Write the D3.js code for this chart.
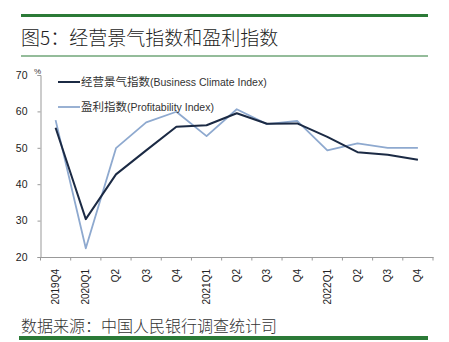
<!DOCTYPE html>
<html><head><meta charset="utf-8">
<script src="https://cdn.jsdelivr.net/npm/d3@7"></script>
<style>body{margin:0;background:#fff;}svg{display:block;}</style>
</head><body>
<svg id="c" width="449" height="342"></svg>
<script>
const categories = ["2019Q4","2020Q1","Q2","Q3","Q4","2021Q1","Q2 ","Q3 ","Q4 ","2022Q1","Q2  ","Q3  ","Q4  "];
const businessClimate = [55.5, 30.4, 42.7, 49.3, 55.8, 56.2, 59.5, 56.6, 56.7, 53.0, 48.8, 48.1, 46.7];
const profitability   = [57.6, 22.4, 49.9, 57.0, 59.9, 53.2, 60.6, 56.5, 57.4, 49.3, 51.2, 50.0, 50.0];
const yTicks = [20, 30, 40, 50, 60, 70];
const seriesNames = ["经营景气指数", "盈利指数"];
const seriesEn = ["(Business Climate Index)", "(Profitability Index)"];
const title = "图5：经营景气指数和盈利指数";
const source = "数据来源：中国人民银行调查统计司";

const svg = d3.select("#c");
const green = "#2b7a37";
const cjk = "'Noto Sans CJK SC','Noto Sans',sans-serif";
const lat = "'Liberation Sans',Arial,sans-serif";

// frame decorations
svg.append("rect").attr("x",21).attr("y",14).attr("width",407).attr("height",3).attr("fill",green);
svg.append("rect").attr("x",21).attr("y",55.5).attr("width",407).attr("height",1).attr("fill",green);
svg.append("rect").attr("x",19).attr("y",336).attr("width",409).attr("height",4).attr("fill",green);
svg.append("text").attr("x",21).attr("y",45).attr("font-family",cjk).attr("font-size",19).attr("font-weight",300).attr("fill","#222").text(title);
svg.append("text").attr("x",21).attr("y",332).attr("font-family",cjk).attr("font-size",16).attr("font-weight",300).attr("fill","#333").text(source);

const x = d3.scaleBand().domain(categories).range([40.5, 433]).padding(0);
const y = d3.scaleLinear().domain([20, 70]).range([257, 75]);
const axisColor = "#999";

// y axis
const ya = svg.append("g").attr("transform","translate(40.5,0)")
  .call(d3.axisLeft(y).tickValues(yTicks).tickSize(3).tickFormat(d3.format("d")));
ya.select(".domain").attr("stroke",axisColor);
ya.selectAll(".tick line").attr("stroke",axisColor);
ya.selectAll("text").attr("font-family",lat).attr("font-size",10.5).attr("fill","#222").attr("x",-13);
svg.append("text").attr("x",34).attr("y",74).attr("font-family",lat).attr("font-size",8).attr("fill","#333").text("%");

// x axis
const xa = svg.append("g").attr("transform","translate(0,257)")
  .call(d3.axisBottom(x).tickSize(0).tickSizeOuter(0));
xa.select(".domain").attr("stroke",axisColor);
xa.selectAll(".tick text")
  .attr("transform","rotate(-90)").attr("text-anchor","end")
  .attr("x",-12).attr("y",0).attr("dy","0.35em")
  .attr("font-family",lat).attr("font-size",10).attr("fill","#222")
  .text(d => d.trim());
const boundaries = categories.map(c => x(c)).concat([x.range()[1]]);
svg.append("g").selectAll("line").data(boundaries).join("line")
  .attr("x1",d=>d).attr("x2",d=>d).attr("y1",257).attr("y2",260.5)
  .attr("stroke",axisColor);

const cx = c => x(c) + x.bandwidth()/2;
const line = vals => d3.line().x((d,i)=>cx(categories[i])).y(d=>y(d))(vals);

svg.append("path").attr("d",line(profitability)).attr("fill","none").attr("stroke","#8ea9cf").attr("stroke-width",1.8).attr("stroke-linejoin","round");
svg.append("path").attr("d",line(businessClimate)).attr("fill","none").attr("stroke","#1b2a44").attr("stroke-width",2).attr("stroke-linejoin","round");

// legend
const legColors = ["#1b2a44","#8ea9cf"];
const legY = [82, 107];
seriesNames.forEach((n,i)=>{
  svg.append("line").attr("x1",58).attr("x2",80).attr("y1",legY[i]).attr("y2",legY[i])
    .attr("stroke",legColors[i]).attr("stroke-width",i===0?2:1.8);
  const t = svg.append("text").attr("x",81).attr("y",legY[i]+4).attr("fill","#333");
  t.append("tspan").attr("font-family",cjk).attr("font-size",11.5).text(n);
  t.append("tspan").attr("font-family",lat).attr("font-size",10.5).text(seriesEn[i]);
});
</script>
</body></html>
